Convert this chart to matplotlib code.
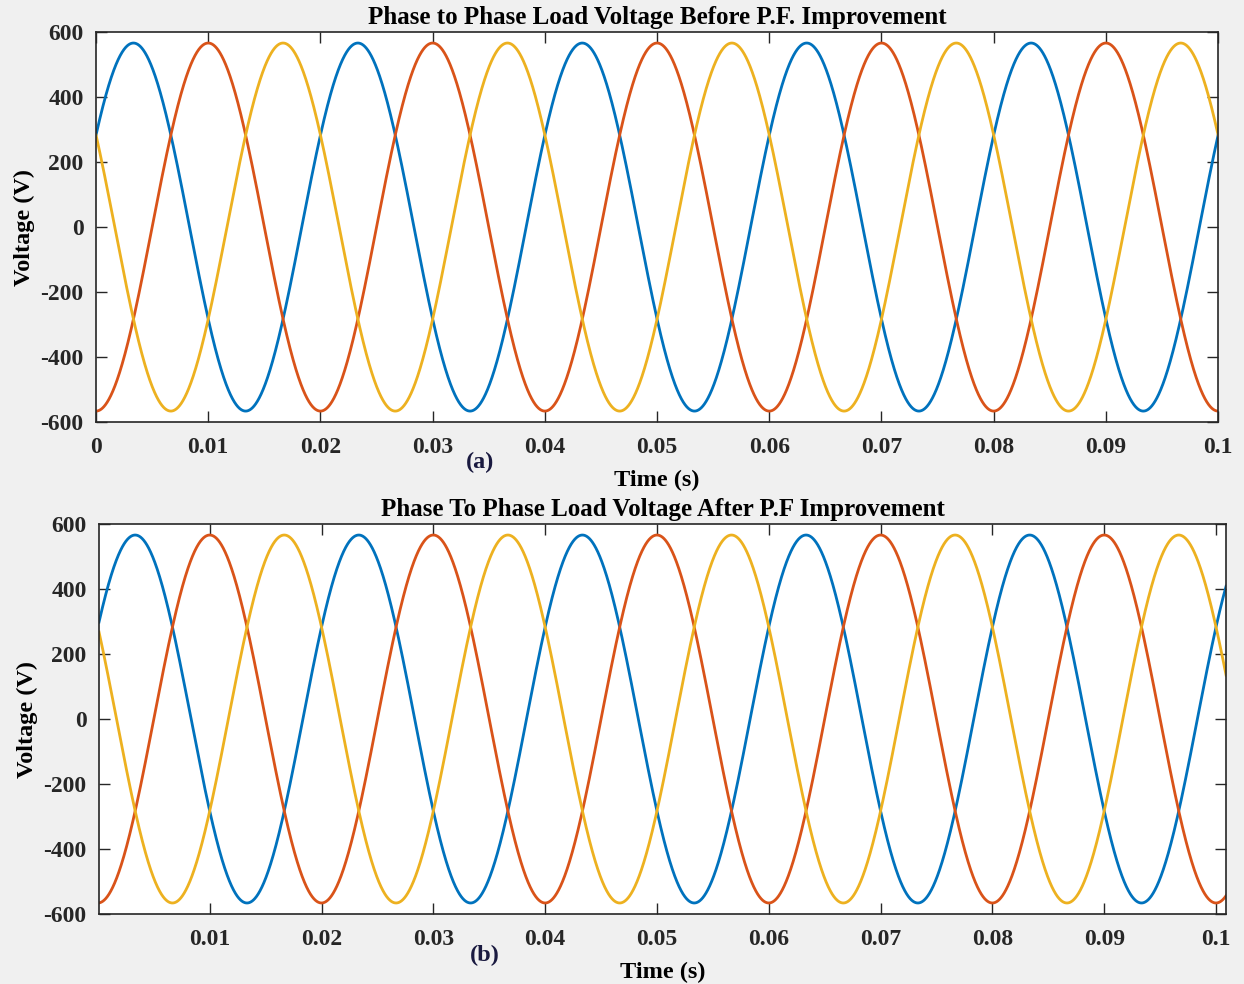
import numpy as np
import matplotlib
matplotlib.use("Agg")
import matplotlib.pyplot as plt

# waveform readings (line-to-line voltage, three phases)
amplitude = 566.0          # V, peak
frequency = 50.0           # Hz
phase_deg = [30, -90, 150]  # blue, red, yellow
phase_colors = ['#0072BD', '#D95319', '#EDB120']

xlim_a = (0.0, 0.1)
xlim_b = (0.0001, 0.1009)
xticks_a = [0, 0.01, 0.02, 0.03, 0.04, 0.05, 0.06, 0.07, 0.08, 0.09, 0.1]
xtick_labels_a = ['0', '0.01', '0.02', '0.03', '0.04', '0.05', '0.06', '0.07', '0.08', '0.09', '0.1']
xticks_b = xticks_a[1:]
xtick_labels_b = xtick_labels_a[1:]
yticks = [-600, -400, -200, 0, 200, 400, 600]

titles = ['Phase to Phase Load Voltage Before P.F. Improvement',
          'Phase To Phase Load Voltage After P.F Improvement']

plt.rcParams['font.family'] = ['Liberation Serif', 'DejaVu Serif']
plt.rcParams['font.weight'] = 'bold'
plt.rcParams['axes.unicode_minus'] = False

fig = plt.figure(figsize=(12.44, 9.84), dpi=100, facecolor='#f0f0f0')
ax_a = fig.add_axes([0.0772, 0.571, 0.902, 0.3965])
ax_b = fig.add_axes([0.0796, 0.0711, 0.906, 0.3964])


def draw(ax, xlim, xticks, xlabels, title):
    t = np.arange(xlim[0], xlim[1] + 1e-5, 1e-5)
    for ph, c in zip(phase_deg, phase_colors):
        v = amplitude * np.sin(2 * np.pi * frequency * t + np.deg2rad(ph))
        ax.plot(t, v, color=c, lw=2.0)
    ax.set_xlim(*xlim)
    ax.set_ylim(-600, 600)
    ax.set_xticks(xticks)
    ax.set_xticklabels(xlabels)
    ax.set_yticks(yticks)
    ax.tick_params(direction='in', length=8, width=1, top=True, right=True,
                   labelsize=17, pad=11, colors='#262626')
    ax.tick_params(axis='y', pad=9)
    for s in ax.spines.values():
        s.set_color('#262626')
        s.set_linewidth(1.2)
    ax.set_facecolor('white')
    ax.set_title(title, fontsize=18, fontweight='bold', pad=6)
    ax.set_ylabel('Voltage (V)', fontsize=17.5, fontweight='bold', labelpad=4)
    ax.set_xlabel('Time (s)', fontsize=17.5, fontweight='bold', labelpad=8)


draw(ax_a, xlim_a, xticks_a, xtick_labels_a, titles[0])
draw(ax_b, xlim_b, xticks_b, xtick_labels_b, titles[1])

fig.text(480 / 1244, 1 - 462 / 984, '(a)', fontsize=17.5, fontweight='bold',
         color='#1a1a40', ha='center', va='center')
fig.text(485 / 1244, 1 - 955 / 984, '(b)', fontsize=17.5, fontweight='bold',
         color='#1a1a40', ha='center', va='center')

fig.savefig('out.png', dpi=100, facecolor=fig.get_facecolor())
